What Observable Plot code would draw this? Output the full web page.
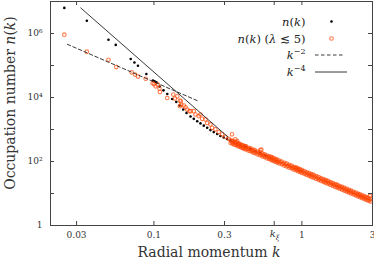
<!DOCTYPE html>
<html>
<head>
<meta charset="utf-8">
<script src="https://cdn.jsdelivr.net/npm/d3@7"></script>
<script src="https://cdn.jsdelivr.net/npm/@observablehq/plot@0.6"></script>
<style>
  html, body { margin: 0; padding: 0; background: #fff; }
</style>
</head>
<body>
<div id="chart"></div>
<script>
// ---------- data ----------
// n(k): black points
const blackK = [0.0248, 0.0352, 0.0493, 0.0552, 0.0697, 0.0738, 0.0780, 0.0889, 0.0985, 0.101, 0.104, 0.1093, 0.116,
  0.1231, 0.1330, 0.1416, 0.1490, 0.1578, 0.1661, 0.1768, 0.1859, 0.1961, 0.2064, 0.2173, 0.2290, 0.2410, 0.2537,
  0.2675, 0.2813, 0.2962, 0.3123, 0.3287, 0.3460, 0.3648, 0.3838, 0.4148, 0.4482, 0.4844, 0.5236, 0.5659];
const blackN = [6.3e6, 2.5e6, 6.4e5, 4.4e5, 1.6e5, 1.24e5, 9.8e4, 5.4e4, 3.4e4, 3.18e4, 2.97e4, 2.2e4, 1.67e4,
  1.28e4, 8980, 7250, 5600, 4210, 3300, 2550, 2150, 1820, 1550, 1320, 1130, 958, 830,
  720, 624, 560, 504, 452, 406, 370, 335, 284, 246, 210, 181, 155];

// n(k) (λ ≲ 5): orange circles, low-k part
const orangeLowK = [0.0248, 0.0352, 0.0493, 0.0557, 0.0706, 0.0745, 0.078, 0.0879, 0.098, 0.1, 0.1027, 0.1064, 0.109, 0.1098,
  0.1231, 0.1351, 0.1385, 0.1438, 0.1497, 0.1497, 0.152, 0.1530, 0.1593, 0.1635, 0.1679, 0.174, 0.1768, 0.1859, 0.191,
  0.201, 0.2064, 0.2119, 0.223, 0.229, 0.241, 0.2474, 0.2604, 0.2742, 0.289, 0.3041, 0.3201];
const orangeLowN = [9.2e5, 2.7e5, 1.5e5, 8.9e4, 6.1e4, 5.2e4, 4.5e4, 3.86e4, 2.8e4, 2.62e4, 2.23e4, 2.52e4, 1.9e4, 1.48e4,
  9650, 1.23e4, 9250, 1.09e4, 8010, 5330, 7620, 6020, 5600, 4960, 4210, 3730, 3730, 3730, 2940,
  2610, 2940, 2150, 2060, 1610, 1440, 1130, 1010, 830, 705, 593, 514];

// orange band, high-k part (upper / lower edges, and in-between points)
const bandK = [0.33, 0.34, 0.35, 0.36, 0.37, 0.38, 0.39, 0.40, 0.41, 0.42, 0.435, 0.45, 0.465, 0.48, 0.50, 0.52, 0.54,
  0.56, 0.58, 0.60, 0.62, 0.64, 0.66, 0.68, 0.70, 0.73, 0.76, 0.79, 0.82, 0.85, 0.88, 0.91, 0.94, 0.97, 1.00, 1.04,
  1.08, 1.12, 1.16, 1.20, 1.25, 1.30, 1.35, 1.40, 1.45, 1.50, 1.56, 1.62, 1.68, 1.74, 1.80, 1.87, 1.94, 2.01, 2.08,
  2.15, 2.23, 2.31, 2.39, 2.47, 2.55, 2.64, 2.73, 2.82, 2.91];
const bandUpperN = [462, 440, 410, 395, 368, 355, 330, 322, 300, 292, 268, 256, 235, 226, 205, 193, 177,
  168, 154, 146, 135, 129, 120, 115, 107, 100, 91, 86, 79, 74.5, 68.5, 65, 60.5, 57.5, 53.5, 50.3,
  46.2, 43.6, 40.2, 38.1, 34.9, 32.6, 30, 28.3, 26.1, 24.8, 22.6, 21.3, 19.7, 18.6, 17.1, 16.1, 14.9, 14.0, 13.0,
  12.3, 11.3, 10.7, 9.9, 9.4, 8.75, 8.3, 7.65, 7.3, 6.8];
const bandLowerN = [378, 360, 336, 322, 300, 290, 272, 262, 246, 238, 220, 209, 193, 184, 168, 158, 145,
  137, 126, 120, 111, 105, 98.5, 94, 87.5, 82, 74.8, 70.2, 64.5, 61, 56.2, 53.4, 49.5, 47.2, 44, 41.2,
  37.9, 35.7, 33, 31.2, 28.6, 26.7, 24.7, 23.2, 21.4, 20.3, 18.6, 17.5, 16.1, 15.2, 14.1, 13.2, 12.2, 11.5, 10.7,
  10.0, 9.35, 8.8, 8.15, 7.7, 7.2, 6.8, 6.3, 5.95, 5.6];
const bandMidK = [0.335, 0.345, 0.355, 0.365, 0.375, 0.385, 0.395, 0.405, 0.415, 0.4275, 0.4425, 0.4575, 0.4725, 0.49,
  0.51, 0.53, 0.55, 0.57, 0.59, 0.61, 0.63, 0.65, 0.67, 0.69, 0.715, 0.745, 0.775, 0.805, 0.835, 0.865, 0.895, 0.925,
  0.955, 0.985, 1.02, 1.06, 1.10, 1.14, 1.18, 1.225, 1.275, 1.325, 1.375, 1.425, 1.475, 1.53, 1.59, 1.65, 1.71, 1.77,
  1.835, 1.905, 1.975, 2.045, 2.115, 2.19, 2.27, 2.35, 2.43, 2.51, 2.595, 2.685, 2.775, 2.865];
const bandMidN = [415, 380, 372, 340, 335, 305, 300, 278, 274, 250, 242, 220, 212, 193,
  184, 165, 159, 144, 138, 126, 122, 111, 108, 99.5, 95.5, 85.5, 81.5, 73.6, 70.5, 64.2, 61.6, 56.4,
  54.3, 50.0, 47.8, 43.4, 41.3, 37.7, 36.0, 32.8, 31.0, 28.2, 26.8, 24.5, 23.3, 21.3, 20.2, 18.5, 17.5, 16.1,
  15.2, 14.0, 13.2, 12.2, 11.6, 10.7, 10.1, 9.3, 8.85, 8.2, 7.8, 7.2, 6.85, 6.35];
// scattered orange circles off the band
const outlierK = [0.337, 0.355, 0.365, 0.415, 0.524, 0.532, 0.62, 0.92, 2.88];
const outlierN = [705, 493, 436, 300, 229, 234, 140, 63, 8.4];

// power-law guide lines (end points)
const km2K = [0.026, 0.196];
const km2N = [4.6e5, 8.0e3];
const km4K = [0.032, 0.317];
const km4N = [6.3e6, 580];

// axes
const xDomain = [0.02, 3];
const yDomain = [1, 1e7];
const kXi = 0.65;
const xTickValues = [0.03, 0.1, 0.3, kXi, 1, 3];
const xNumericTicks = [0.03, 0.1, 0.3, 1, 3];
const xNumericLabels = ["0.03", "0.1", "0.3", "1", "3"];
const yTickMarks = [10, 100, 1e3, 1e4, 1e5, 1e6];
const yLabelValues = [1, 100, 1e4, 1e6];
const yLabelTexts = ["1", "10²", "10⁴", "10⁶"];

// ---------- build tables ----------
const zip = (ks, ns) => ks.map((k, i) => ({k, n: ns[i]}));
const black = zip(blackK, blackN);
const orange = [
  ...zip(orangeLowK, orangeLowN),
  ...zip(bandK, bandUpperN),
  ...zip(bandK, bandLowerN),
  ...zip(bandMidK, bandMidN),
  ...zip(outlierK, outlierN)
];
const line2 = zip(km2K, km2N);
const line4 = zip(km4K, km4N);

const W = 374, H = 260, mL = 50, mR = 2, mT = 1, mB = 35;
const pw = W - mL - mR, ph = H - mT - mB;
const FONT = "'DejaVu Serif', 'Liberation Serif', serif";
const ORANGE = "#ff4500";
const FRAME = "#444";

const plot = Plot.plot({
  width: W, height: H,
  marginLeft: mL, marginRight: mR, marginTop: mT, marginBottom: mB,
  style: {fontFamily: FONT, fontSize: "9px", color: "#333", background: "#fff"},
  x: {type: "log", domain: xDomain, axis: null},
  y: {type: "log", domain: yDomain},
  marks: [
    Plot.dot(black, {x: "k", y: "n", r: 1.3, fill: "#000", stroke: "none"}),
    Plot.dot(orange, {x: "k", y: "n", r: 1.8, stroke: ORANGE, strokeWidth: 1.1, strokeOpacity: 0.7, fill: "none"}),
    Plot.line(line2, {x: "k", y: "n", stroke: "#222", strokeWidth: 0.9, strokeDasharray: "3.5,2.5"}),
    Plot.line(line4, {x: "k", y: "n", stroke: "#222", strokeWidth: 0.9}),
    Plot.tickX(xTickValues, {x: d => d, insetTop: ph - 4, stroke: FRAME}),
    Plot.tickX(xTickValues, {x: d => d, insetBottom: ph - 4, stroke: FRAME}),
    Plot.tickY(yTickMarks, {y: d => d, insetRight: pw - 4, stroke: FRAME}),
    Plot.tickY(yTickMarks, {y: d => d, insetLeft: pw - 4, stroke: FRAME}),
    // x tick labels
    Plot.text(xNumericTicks, {x: d => d, text: (d, i) => xNumericLabels[i], frameAnchor: "bottom", dy: 12.5,
      fontSize: 9, fill: "#333"}),
    Plot.text([kXi], {x: d => d, text: () => "k", frameAnchor: "bottom", dy: 11.5, dx: -1.5,
      fontSize: 10, fontStyle: "italic", fill: "#333"}),
    Plot.text([kXi], {x: d => d, text: () => "ξ", frameAnchor: "bottom", dy: 14.5, dx: 3.5,
      fontSize: 7, fontStyle: "italic", fill: "#333"}),
    Plot.axisY({ticks: yLabelValues, tickFormat: d => yLabelTexts[yLabelValues.indexOf(d)], tickSize: 0, tickPadding: 8, label: null}),
    Plot.frame({stroke: FRAME})
  ]
});
document.getElementById("chart").append(plot);

const svg = d3.select(plot);

function rich(sel, parts) {
  for (const [s, st] of parts) {
    const ts = sel.append("tspan").text(s);
    if (st && st.italic) ts.attr("font-style", "italic");
    if (st && st.size) ts.attr("font-size", st.size);
    if (st && st.dy) ts.attr("dy", st.dy);
  }
  return sel;
}

// axis titles
const yTitle = svg.append("text")
  .attr("transform", "translate(15,103) rotate(-90)")
  .attr("text-anchor", "middle").attr("font-family", FONT).attr("font-size", 14).attr("fill", "#333");
rich(yTitle, [["Occupation number "], ["n", {italic: true}], ["("], ["k", {italic: true}], [")"]]);

const xTitle = svg.append("text")
  .attr("x", 209).attr("y", 257)
  .attr("text-anchor", "middle").attr("font-family", FONT).attr("font-size", 14).attr("fill", "#333");
rich(xTitle, [["Radial momentum "], ["k", {italic: true}]]);

// legend
const lg = svg.append("g").attr("font-family", FONT).attr("font-size", 11.5).attr("fill", "#222");
const tx = 305.5;
rich(lg.append("text").attr("x", tx).attr("y", 25.5).attr("text-anchor", "end"),
  [["n", {italic: true}], ["("], ["k", {italic: true}], [")"]]);
rich(lg.append("text").attr("x", tx).attr("y", 42.5).attr("text-anchor", "end"),
  [["n", {italic: true}], ["("], ["k", {italic: true}], [") ("], ["λ", {italic: true}], [" ≲ 5)"]]);
rich(lg.append("text").attr("x", tx).attr("y", 59).attr("text-anchor", "end"),
  [["k", {italic: true}], ["−2", {size: 8, dy: -5}]]);
rich(lg.append("text").attr("x", tx).attr("y", 76).attr("text-anchor", "end"),
  [["k", {italic: true}], ["−4", {size: 8, dy: -5}]]);
lg.append("circle").attr("cx", 331.5).attr("cy", 21.5).attr("r", 1.3).attr("fill", "#000");
lg.append("circle").attr("cx", 331.5).attr("cy", 38.5).attr("r", 1.8).attr("fill", "none")
  .attr("stroke", ORANGE).attr("stroke-width", 1.1).attr("stroke-opacity", 0.7);
lg.append("line").attr("x1", 315).attr("x2", 345).attr("y1", 55).attr("y2", 55)
  .attr("stroke", "#222").attr("stroke-width", 0.9).attr("stroke-dasharray", "3.5,2.5");
lg.append("line").attr("x1", 315).attr("x2", 347).attr("y1", 72).attr("y2", 72)
  .attr("stroke", "#222").attr("stroke-width", 0.9);
</script>
</body>
</html>
